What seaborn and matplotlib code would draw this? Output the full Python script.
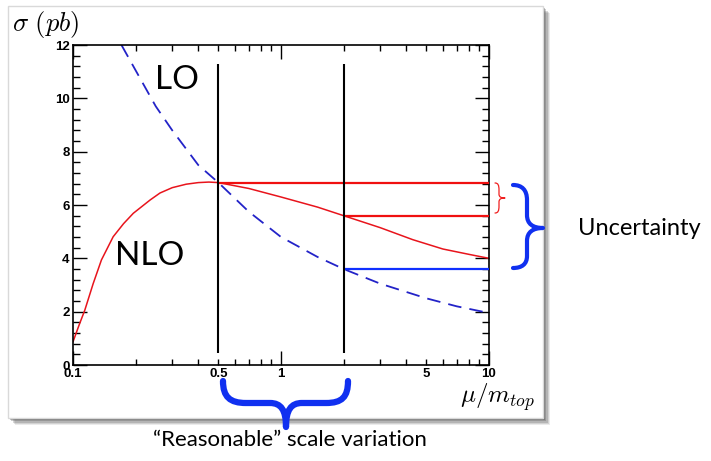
import numpy as np
import pandas as pd
import matplotlib
matplotlib.use("Agg")
import matplotlib.pyplot as plt
import seaborn as sns
from matplotlib.path import Path
from matplotlib.patches import PathPatch, Rectangle
from matplotlib.ticker import LogLocator, MultipleLocator, FuncFormatter

# --- data ---
lo_mu = [0.171, 0.2, 0.25, 0.3, 0.4, 0.5, 0.7, 1.0, 1.5, 2.0, 3.0, 5.0, 7.0, 10.0]
lo_sigma = [12.0, 11.05, 9.7, 8.8, 7.5, 6.84, 5.75, 4.8, 4.05, 3.6, 3.05, 2.5, 2.2, 1.95]

nlo_mu = [0.1, 0.107, 0.114, 0.125, 0.137, 0.156, 0.175, 0.195, 0.235, 0.262, 0.3,
          0.35, 0.4, 0.45, 0.5, 0.7, 1.0, 1.5, 2.0, 3.0, 4.3, 6.0, 8.0, 10.0]
nlo_sigma = [0.87, 1.5, 2.06, 3.05, 3.94, 4.81, 5.3, 5.69, 6.19, 6.45, 6.65,
             6.78, 6.84, 6.86, 6.84, 6.62, 6.3, 5.92, 5.6, 5.15, 4.7, 4.35, 4.15, 4.0]

scale_lo, scale_hi = 0.5, 2.0          # "reasonable" range
band_top = 6.84                         # NLO at mu = 0.5
band_mid = 5.6                          # NLO at mu = 2
band_lo = 3.6                           # LO at mu = 2
vline_ymin, vline_ymax = 0.45, 11.3

W, H = 711, 461

sns.set_theme(style="ticks")
plt.rcParams["font.family"] = ["Liberation Sans", "DejaVu Sans"]
plt.rcParams["font.weight"] = "bold"      # tick labels are bold
plt.rcParams["mathtext.fontset"] = "cm"
plt.rcParams["text.color"] = "black"
plt.rcParams["xtick.color"] = "black"
plt.rcParams["ytick.color"] = "black"
plt.rcParams["xtick.labelsize"] = 9.5
plt.rcParams["ytick.labelsize"] = 9.5

fig = plt.figure(figsize=(W / 100, H / 100), dpi=100)
fig.patch.set_facecolor("white")


def px(x, y):
    return (x / W, 1 - y / H)


# panel with soft drop shadow
for i, a in enumerate([0.10, 0.14, 0.20, 0.26, 0.34]):
    off = 7 - i * 1.2
    x0, y0 = px(8 + off, 418 + off)
    fig.patches.append(Rectangle((x0, y0), 535 / W, 412 / H, transform=fig.transFigure,
                                 facecolor="#404040", edgecolor="none", alpha=a, zorder=-3))
x0, y0 = px(8, 418)
fig.patches.append(Rectangle((x0, y0), 535 / W, 412 / H, transform=fig.transFigure,
                             facecolor="white", edgecolor="#d9d9d9", lw=1.0, zorder=-2))

ax = fig.add_axes([73 / W, 1 - 365 / H, 416 / W, 320 / H])
ax.set_zorder(1)
ax.set_facecolor("none")
ax.set_xscale("log")

sns.lineplot(x=lo_mu, y=lo_sigma, ax=ax, color="#2323c8", lw=1.3,
             linestyle=(0, (7.5, 4.5)), sort=False)
sns.lineplot(x=nlo_mu, y=nlo_sigma, ax=ax, color="#e8141c", lw=1.1, sort=False)

ax.hlines(band_top, scale_lo, 10, color="#f01010", lw=1.6, zorder=3)
ax.hlines(band_mid, scale_hi, 10, color="#f01010", lw=1.6, zorder=3)
ax.hlines(band_lo, scale_hi, 10, color="#1030ff", lw=1.6, zorder=3)
ax.vlines([scale_lo, scale_hi], vline_ymin, vline_ymax, color="black", lw=1.5, zorder=4)

ax.set_xlim(0.1, 10)
ax.set_ylim(0, 12)

ax.xaxis.set_major_locator(LogLocator(base=10, subs=(1.0,)))
ax.xaxis.set_minor_locator(LogLocator(base=10, subs=np.arange(2, 10)))
ax.xaxis.set_major_formatter(FuncFormatter(lambda v, _: "%g" % v))
ax.xaxis.set_minor_formatter(FuncFormatter(
    lambda v, _: "%g" % v if np.isclose(v, 0.5) or np.isclose(v, 5) else ""))
ax.yaxis.set_major_locator(MultipleLocator(2))
ax.yaxis.set_minor_locator(MultipleLocator(0.4))

ax.tick_params(which="both", direction="in", top=True, right=True, width=1.0, color="black")
ax.tick_params(which="major", length=10, pad=2.5)
ax.tick_params(which="minor", length=4.5, pad=2.5)
ax.tick_params(axis="y", which="minor", length=5)
for s in ax.spines.values():
    s.set_linewidth(1.2)
    s.set_color("black")

ax.text(0.316, 10.7, "LO", fontsize=24, family="Lato", fontweight="normal",
        ha="center", va="center")
ax.text(0.235, 4.09, "NLO", fontsize=24, family="Lato", fontweight="normal",
        ha="center", va="center")

fig.text(*px(12, 24), r"$\sigma\ (pb)$", fontsize=19, ha="left", va="center")
fig.text(*px(497, 397), r"$\mu/m_{top}$", fontsize=18, ha="center", va="center")
fig.text(*px(639, 228), "Uncertainty", fontsize=17, family="Lato", fontweight="normal",
         ha="center", va="center")
fig.text(*px(290, 440), "\u201cReasonable\u201d scale variation", fontsize=16,
         family="Lato", fontweight="normal", ha="center", va="center")


def brace(pts, color, lw):
    codes = [Path.MOVETO] + [Path.CURVE4] * 3 + [Path.LINETO] + [Path.CURVE4] * 6 \
        + [Path.LINETO] + [Path.CURVE4] * 3
    verts = [px(*p) for p in pts]
    fig.patches.append(PathPatch(Path(verts, codes), transform=fig.transFigure,
                                 facecolor="none", edgecolor=color, lw=lw,
                                 capstyle="round", joinstyle="round", zorder=5))


# bottom brace (scale range)
brace([(223, 381), (223, 397), (230, 403), (246, 403), (270, 403),
       (281, 403), (286, 410), (286, 427), (286, 410), (291, 403), (302, 403),
       (326, 403), (342, 403), (348, 397), (348, 381)], "#1030f0", 4.5)
# right brace (total uncertainty)
brace([(513, 185), (522, 185), (527, 190), (527, 200), (527, 215),
       (527, 224), (533, 228), (543, 228), (533, 228), (527, 232), (527, 241),
       (527, 256), (527, 264), (522, 268), (513, 268)], "#1030f0", 3.0)
# small red brace (NLO spread)
brace([(495, 183), (498, 183), (499, 185), (499, 190), (499, 194),
       (499, 197), (501, 198), (505, 198), (501, 198), (499, 199), (499, 202),
       (499, 206), (499, 211), (498, 213), (495, 213)], "#f02020", 0.9)

fig.savefig("out.png", dpi=100)
